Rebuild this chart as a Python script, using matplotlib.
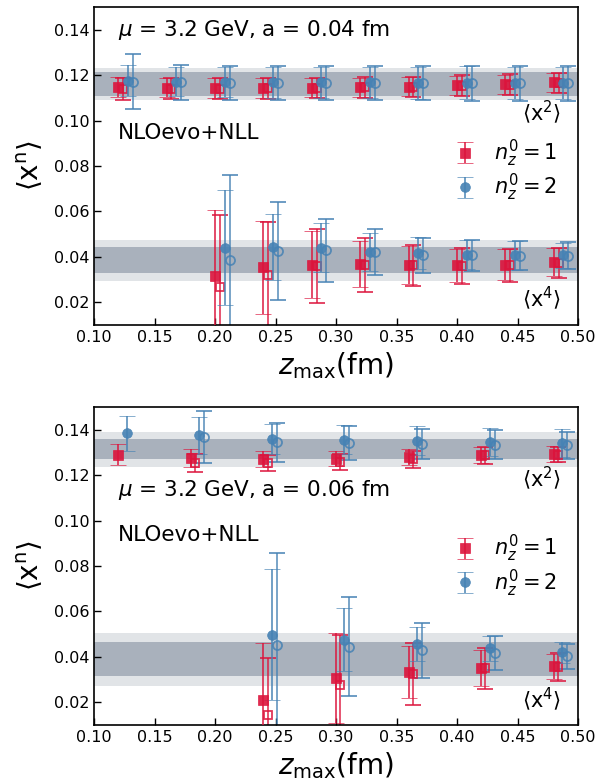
import matplotlib
matplotlib.use("Agg")
import matplotlib.pyplot as plt
import numpy as np

RED = "#dc143c"
BLUE = "#4682b4"
DARK = "#a9b1bc"
LIGHT = "#e1e4e7"

# ---------------- Top panel (a = 0.04 fm) ----------------
top_z2 = [0.12, 0.16, 0.20, 0.24, 0.28, 0.32, 0.36, 0.40, 0.44, 0.48]
top_x2_r = [0.1148, 0.1145, 0.1144, 0.1144, 0.1145, 0.1147, 0.1150, 0.1155, 0.1160, 0.1168]
top_x2_r_err = [0.0045, 0.0043, 0.0043, 0.0043, 0.0042, 0.0042, 0.0042, 0.0042, 0.0042, 0.0042]
top_x2_ro = [0.1138, 0.1140, 0.1141, 0.1142, 0.1143, 0.1146, 0.1149, 0.1154, 0.1158, 0.1165]
top_x2_ro_err = [0.0048, 0.0046, 0.0046, 0.0046, 0.0045, 0.0045, 0.0045, 0.0045, 0.0045, 0.0045]
top_x2_b = [0.1175, 0.1171, 0.1170, 0.1168, 0.1168, 0.1168, 0.1167, 0.1167, 0.1166, 0.1166]
top_x2_b_err = [0.0068, 0.0065, 0.0068, 0.0068, 0.0068, 0.0068, 0.0070, 0.0072, 0.0072, 0.0072]
top_x2_bo = [0.1172, 0.1168, 0.1167, 0.1166, 0.1165, 0.1165, 0.1165, 0.1164, 0.1164, 0.1164]
top_x2_bo_err = [0.0121, 0.0078, 0.0075, 0.0075, 0.0075, 0.0075, 0.0075, 0.0078, 0.0078, 0.0078]

top_z4 = [0.20, 0.24, 0.28, 0.32, 0.36, 0.40, 0.44, 0.48]
top_x4_r = [0.0315, 0.0354, 0.0366, 0.0369, 0.0366, 0.0362, 0.0366, 0.0378]
top_x4_r_err = [0.0290, 0.0205, 0.0149, 0.0103, 0.0084, 0.0073, 0.0069, 0.0063]
top_x4_ro = [0.0268, 0.0319, 0.0359, 0.0363, 0.0362, 0.0360, 0.0362, 0.0372]
top_x4_ro_err = [0.0315, 0.0236, 0.0163, 0.0118, 0.0090, 0.0078, 0.0074, 0.0065]
top_x4_b = [0.0440, 0.0442, 0.0440, 0.0422, 0.0418, 0.0410, 0.0406, 0.0406]
top_x4_b_err = [0.0253, 0.0145, 0.0107, 0.0085, 0.0070, 0.0065, 0.0063, 0.0056]
top_x4_bo = [0.0385, 0.0425, 0.0428, 0.0420, 0.0407, 0.0407, 0.0405, 0.0405]
top_x4_bo_err = [0.0374, 0.0217, 0.0137, 0.0101, 0.0078, 0.0068, 0.0065, 0.0060]

top_band_x2 = (0.1110, 0.1215, 0.1090, 0.1231)   # dark lo, dark hi, light lo, light hi
top_band_x4 = (0.0327, 0.0445, 0.0292, 0.0476)

# ---------------- Bottom panel (a = 0.06 fm) ----------------
bot_z2 = [0.12, 0.18, 0.24, 0.30, 0.36, 0.42, 0.48]
bot_x2_r = [0.1290, 0.1275, 0.1271, 0.1272, 0.1280, 0.1290, 0.1293]
bot_x2_r_err = [0.0046, 0.0040, 0.0037, 0.0033, 0.0035, 0.0036, 0.0034]
bot_z2_open = [0.18, 0.24, 0.30, 0.36, 0.42, 0.48]
bot_x2_ro = [0.1252, 0.1255, 0.1258, 0.1270, 0.1287, 0.1290]
bot_x2_ro_err = [0.0040, 0.0035, 0.0035, 0.0037, 0.0036, 0.0034]
bot_x2_b = [0.1385, 0.1375, 0.1360, 0.1356, 0.1352, 0.1346, 0.1341]
bot_x2_b_err = [0.0077, 0.0080, 0.0065, 0.0064, 0.0063, 0.0060, 0.0060]
bot_x2_bo = [0.1368, 0.1344, 0.1341, 0.1337, 0.1334, 0.1331]
bot_x2_bo_err = [0.0114, 0.0087, 0.0075, 0.0068, 0.0063, 0.0060]

bot_z4 = [0.24, 0.30, 0.36, 0.42, 0.48]
bot_x4_r = [0.0212, 0.0308, 0.0334, 0.0352, 0.0359]
bot_x4_r_err = [0.0248, 0.0199, 0.0113, 0.0080, 0.0055]
bot_x4_ro = [0.0146, 0.0275, 0.0325, 0.0349, 0.0357]
bot_x4_ro_err = [0.0250, 0.0223, 0.0137, 0.0090, 0.0062]
bot_x4_b = [0.0498, 0.0476, 0.0457, 0.0437, 0.0420]
bot_x4_b_err = [0.0290, 0.0140, 0.0075, 0.0055, 0.0046]
bot_x4_bo = [0.0454, 0.0444, 0.0429, 0.0418, 0.0403]
bot_x4_bo_err = [0.0404, 0.0218, 0.0120, 0.0075, 0.0055]

bot_band_x2 = (0.1270, 0.1357, 0.1237, 0.1389)
bot_band_x4 = (0.0316, 0.0464, 0.0270, 0.0504)

xticks = [0.10, 0.15, 0.20, 0.25, 0.30, 0.35, 0.40, 0.45, 0.50]
yticks = [0.02, 0.04, 0.06, 0.08, 0.10, 0.12, 0.14]

plt.rcParams['font.family'] = ['DejaVu Sans']
plt.rcParams['mathtext.fontset'] = 'dejavusans'

fig = plt.figure(figsize=(6.0, 7.83), dpi=100)

ekw = dict(linestyle='none', elinewidth=1.2, capsize=5.5, capthick=1.2)


def draw_bands(ax, band):
    dlo, dhi, llo, lhi = band
    ax.axhspan(llo, lhi, color=LIGHT, zorder=0, lw=0)
    ax.axhspan(dlo, dhi, color=DARK, zorder=0.5, lw=0)


def series(ax, z, y, e, off, color, marker, filled, label=None):
    x = np.array(z) + off
    if filled:
        ax.errorbar(x, y, yerr=e, color=color, marker=marker, mfc=color, mec=color,
                    markersize=6.5 if marker == 's' else 7, mew=0.5, label=label,
                    alpha=0.9, zorder=3, **ekw)
    else:
        ax.errorbar(x, y, yerr=e, color=color, marker=marker, mfc='none', mec=color,
                    markersize=6 if marker == 's' else 6.5, mew=1.3,
                    alpha=0.85, zorder=2, **ekw)


def panel(ax, a_txt, z2, r2, r2e, z2o, ro2, ro2e, b2, b2e, bo2, bo2e,
          z4, r4, r4e, ro4, ro4e, b4, b4e, bo4, bo4e, band2, band4, offs,
          tpos, npos, l2pos, l4pos, legpos):
    draw_bands(ax, band2)
    draw_bands(ax, band4)
    o1, o2, o3 = offs
    series(ax, z2o, ro2, ro2e, o1, RED, 's', False)
    series(ax, z2o, bo2, bo2e, o3, BLUE, 'o', False)
    series(ax, z2, r2, r2e, 0.0, RED, 's', True, r'$n_z^0 = 1$')
    series(ax, z2, b2, b2e, o2, BLUE, 'o', True, r'$n_z^0 = 2$')
    series(ax, z4, ro4, ro4e, o1, RED, 's', False)
    series(ax, z4, bo4, bo4e, o3, BLUE, 'o', False)
    series(ax, z4, r4, r4e, 0.0, RED, 's', True)
    series(ax, z4, b4, b4e, o2, BLUE, 'o', True)

    ax.set_xlim(0.10, 0.50)
    ax.set_ylim(0.01, 0.15)
    ax.set_xticks(xticks)
    ax.set_xticklabels([f"{t:.2f}" for t in xticks])
    ax.set_yticks(yticks)
    ax.set_yticklabels([f"{t:.2f}" for t in yticks])
    ax.tick_params(direction='in', labelsize=11.5, length=5, width=1)
    ax.set_xlabel(r'$z_{\rm max}$(fm)', fontsize=20, labelpad=4)
    ax.set_ylabel(r'$\langle\mathrm{x}^{\mathrm{n}}\rangle$', fontsize=20, labelpad=6)
    for s in ax.spines.values():
        s.set_linewidth(1.2)
    ax.text(tpos[0], tpos[1], r'$\mu$ = 3.2 GeV, a = ' + a_txt, transform=ax.transAxes,
            fontsize=15.5, ha='left', va='center')
    ax.text(npos[0], npos[1], 'NLOevo+NLL', transform=ax.transAxes,
            fontsize=15.5, ha='left', va='center')
    ax.text(l2pos[0], l2pos[1], r'$\langle\mathrm{x}^{2}\rangle$', transform=ax.transAxes,
            fontsize=15, ha='center', va='center')
    ax.text(l4pos[0], l4pos[1], r'$\langle\mathrm{x}^{4}\rangle$', transform=ax.transAxes,
            fontsize=15, ha='center', va='center')
    ax.legend(loc='upper right', bbox_to_anchor=legpos, frameon=False, fontsize=15,
              handlelength=1.2, handletextpad=0.8, labelspacing=0.15, borderaxespad=0)


ax1 = fig.add_axes([94/600, 1-325/783, 484/600, 318/783])
panel(ax1, '0.04 fm', top_z2, top_x2_r, top_x2_r_err, top_z2, top_x2_ro, top_x2_ro_err,
      top_x2_b, top_x2_b_err, top_x2_bo, top_x2_bo_err,
      top_z4, top_x4_r, top_x4_r_err, top_x4_ro, top_x4_ro_err,
      top_x4_b, top_x4_b_err, top_x4_bo, top_x4_bo_err,
      top_band_x2, top_band_x4, (0.004, 0.008, 0.012),
      (0.05, 0.928), (0.05, 0.604), (0.925, 0.67), (0.925, 0.085), (0.975, 0.615))

ax2 = fig.add_axes([94/600, 1-725/783, 484/600, 318/783])
panel(ax2, '0.06 fm', bot_z2, bot_x2_r, bot_x2_r_err, bot_z2_open, bot_x2_ro, bot_x2_ro_err,
      bot_x2_b, bot_x2_b_err, bot_x2_bo, bot_x2_bo_err,
      bot_z4, bot_x4_r, bot_x4_r_err, bot_x4_ro, bot_x4_ro_err,
      bot_x4_b, bot_x4_b_err, bot_x4_bo, bot_x4_bo_err,
      bot_band_x2, bot_band_x4, (0.0035, 0.007, 0.011),
      (0.05, 0.739), (0.05, 0.597), (0.925, 0.777), (0.925, 0.082), (0.975, 0.63))

fig.savefig('out.png', dpi=100)
